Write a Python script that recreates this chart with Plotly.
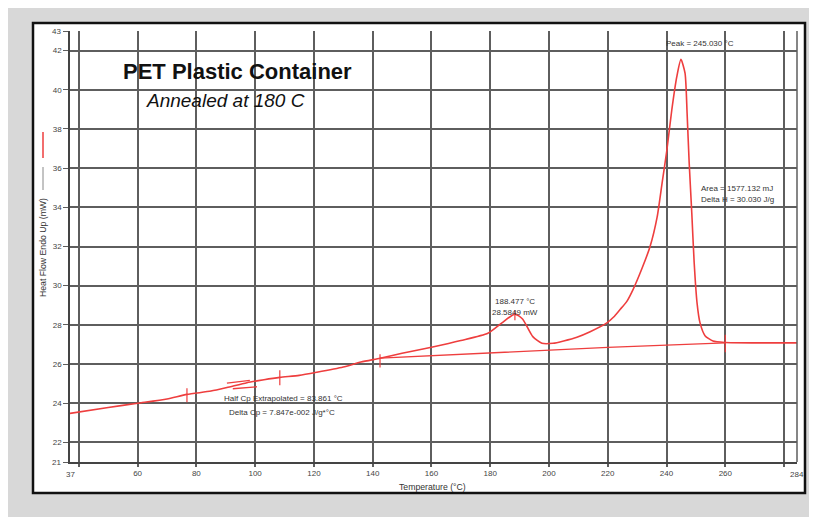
import plotly.graph_objects as go

# ---- data ----
temperature = [37, 50, 60, 70, 76.8, 85, 90.4, 97.2, 103, 108.4, 115, 121, 130, 136, 142.5,
               150, 160, 170, 179.2, 184, 188.4, 191, 194.5, 197.6, 201.4, 205, 209.5, 214,
               219.7, 222, 224, 226.5, 228.6, 231.7, 234.4, 236.8, 238.5, 240.1, 241.8, 243.5,
               244.9, 246.3, 247.0, 247.7, 248.6, 249.4, 250.4, 251.4, 253.1, 255.8, 260, 270,
               284.4]
heat_flow = [23.48, 23.78, 24.0, 24.22, 24.45, 24.62, 24.8, 25.05, 25.2, 25.32, 25.42, 25.58,
             25.85, 26.1, 26.3, 26.55, 26.86, 27.2, 27.57, 28.1, 28.55, 28.3, 27.4, 27.06,
             27.06, 27.18, 27.37, 27.65, 28.1, 28.4, 28.75, 29.2, 29.8, 30.9, 32.0, 33.5,
             35.25, 36.9, 38.98, 40.67, 41.55, 40.85, 38.8, 36.3, 33.7, 31.2, 29.1, 28.1,
             27.45, 27.17, 27.1, 27.08, 27.08]

baseline_t = [142.5, 180, 220, 260]
baseline_mw = [26.3, 26.58, 26.85, 27.08]

tg_upper_t = [90.4, 98.2]
tg_upper_mw = [25.03, 25.17]
tg_lower_t = [92.4, 100.6]
tg_lower_mw = [24.74, 24.84]

marker_t = [76.8, 108.4, 142.5, 188.4, 260]
marker_lo = [24.05, 24.92, 25.83, 28.24, 26.6]
marker_hi = [24.76, 25.68, 26.5, 28.75, 27.5]

x_grid = [40, 60, 80, 100, 120, 140, 160, 180, 200, 220, 240, 260, 280]
x_labels = ["", "60", "80", "100", "120", "140", "160", "180", "200", "220", "240", "260", ""]
x_min, x_max = 37, 284.4
x_end_labels = ["37", "284"]
y_grid = [22, 24, 26, 28, 30, 32, 34, 36, 38, 40, 42]
y_min, y_max = 21, 43

RED = "rgb(238,62,62)"
FONT = "Liberation Sans, Arial, sans-serif"
GRID = "#5e5e5e"

fig = go.Figure()
fig.add_trace(go.Scatter(x=temperature, y=heat_flow, mode="lines",
                         line=dict(color=RED, width=1.6, shape="spline", smoothing=0.6),
                         hoverinfo="skip"))
fig.add_trace(go.Scatter(x=baseline_t, y=baseline_mw, mode="lines",
                         line=dict(color=RED, width=1.4), hoverinfo="skip"))
fig.add_trace(go.Scatter(x=tg_upper_t, y=tg_upper_mw, mode="lines",
                         line=dict(color=RED, width=1.3), hoverinfo="skip"))
fig.add_trace(go.Scatter(x=tg_lower_t, y=tg_lower_mw, mode="lines",
                         line=dict(color=RED, width=1.3), hoverinfo="skip"))
mx, my = [], []
for t, lo, hi in zip(marker_t, marker_lo, marker_hi):
    mx += [t, t, None]
    my += [lo, hi, None]
fig.add_trace(go.Scatter(x=mx, y=my, mode="lines", line=dict(color=RED, width=1.2),
                         hoverinfo="skip"))

# ---- frame / background (page body has an 8px margin) ----
O = 8
W, H = 817 - O, 517 - O
L, T = 70 - O, 31 - O
R = W - (797 - O)
B = H - (462 - O)
pw, ph = W - L - R, H - T - B
def px(xp):
    return (xp - O - L) / pw
def py(yp):
    return (H - B - (yp - O)) / ph

shapes = [
    dict(type="rect", xref="paper", yref="paper", x0=px(33), x1=px(805), y0=py(493), y1=py(23),
         fillcolor="white", line=dict(color="#111", width=2.5), layer="below"),
    dict(type="line", xref="paper", yref="paper", x0=1, x1=1, y0=0, y1=1,
         line=dict(color=GRID, width=1.5)),
    dict(type="line", xref="paper", yref="paper", x0=px(43), x1=px(43), y0=py(158), y1=py(132),
         line=dict(color=RED, width=1.5)),
    dict(type="line", xref="paper", yref="paper", x0=px(43), x1=px(43), y0=py(190), y1=py(167),
         line=dict(color="#888", width=1)),
]

small = dict(family=FONT, size=8, color="#333")
title_f = dict(family=FONT, size=8.7, color="#333")
ann = [
    dict(text="<b>PET Plastic Container</b>", x=px(121), y=py(72), xref="paper", yref="paper",
         xanchor="left", yanchor="middle", showarrow=False, font=dict(family=FONT, size=22, color="#111")),
    dict(text="<i>Annealed at 180 C</i>", x=px(144), y=py(101), xref="paper", yref="paper",
         xanchor="left", yanchor="middle", showarrow=False, font=dict(family=FONT, size=19, color="#111")),
    dict(text="Peak = 245.030 °C", x=251.4, y=42.36, xanchor="center", yanchor="middle",
         showarrow=False, font=small),
    dict(text="Area = 1577.132 mJ", x=251.0, y=34.97, xanchor="left", yanchor="middle",
         showarrow=False, font=small),
    dict(text="Delta H = 30.030 J/g", x=251.0, y=34.4, xanchor="left", yanchor="middle",
         showarrow=False, font=small),
    dict(text="188.477 °C", x=188.6, y=29.2, xanchor="center", yanchor="middle",
         showarrow=False, font=small),
    dict(text="28.5849 mW", x=188.6, y=28.64, xanchor="center", yanchor="middle",
         showarrow=False, font=small),
    dict(text="Half Cp Extrapolated = 83.861 °C", x=88.8, y=24.23, xanchor="left", yanchor="middle",
         showarrow=False, font=small),
    dict(text="Delta Cp = 7.847e-002 J/g*°C", x=90.5, y=23.55, xanchor="left", yanchor="middle",
         showarrow=False, font=small),
    dict(text="Temperature (°C)", x=px(432), y=py(487), xref="paper", yref="paper",
         xanchor="center", yanchor="middle", showarrow=False, font=title_f),
    dict(text="Heat Flow Endo Up (mW)", x=px(43), y=py(248), xref="paper", yref="paper",
         xanchor="center", yanchor="middle", textangle=-90, showarrow=False, font=title_f),
]
tick_f = dict(family=FONT, size=8, color="#444")
for xv, lab in zip([x_min, x_max], x_end_labels):
    ann.append(dict(text=lab, x=xv, y=py(474), xref="x", yref="paper", xanchor="center",
                    yanchor="middle", showarrow=False, font=tick_f))
for yv in [y_min, y_max]:
    ann.append(dict(text=str(yv), x=px(63), y=yv, xref="paper", yref="y", xanchor="right",
                    yanchor="middle", showarrow=False, font=tick_f))

fig.update_layout(
    width=W, height=H, margin=dict(l=L, r=R, t=T, b=B),
    paper_bgcolor="#d8d8d8", plot_bgcolor="rgba(0,0,0,0)",
    showlegend=False, shapes=shapes, annotations=ann,
    xaxis=dict(range=[x_min, x_max], tickmode="array", tickvals=x_grid, ticktext=x_labels,
               showgrid=True, gridcolor=GRID, gridwidth=1.5, zeroline=False,
               showline=True, linecolor="#444", linewidth=1.5,
               ticks="outside", ticklen=3, tickcolor=GRID, tickwidth=1.5,
               tickfont=tick_f),
    yaxis=dict(range=[y_min, y_max], tickmode="array", tickvals=y_grid,
               ticktext=[str(v) for v in y_grid],
               showgrid=True, gridcolor=GRID, gridwidth=1.5, zeroline=False,
               showline=True, linecolor="#444", linewidth=1.5,
               ticks="outside", ticklen=5, tickcolor=GRID, tickwidth=1.2,
               minor=dict(tickvals=[y_min, y_max], ticks="outside", ticklen=5, tickcolor=GRID,
                          showgrid=False),
               tickfont=tick_f),
)

fig.write_html("out.html")
